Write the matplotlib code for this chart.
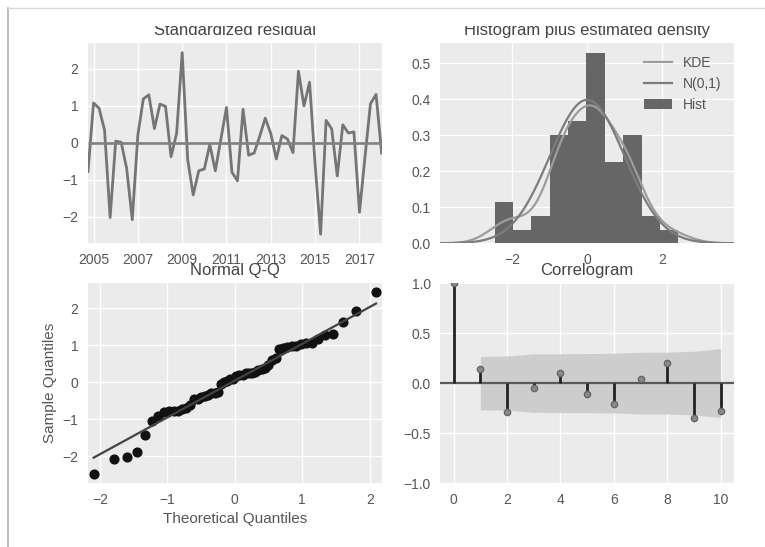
import statistics
import numpy as np
import pandas as pd
import matplotlib
matplotlib.use('Agg')
import matplotlib.pyplot as plt
from matplotlib.lines import Line2D
from matplotlib.patches import Rectangle

# standardized residuals (quarterly)
resid = [-0.78, 1.07, 0.93, 0.34, -2.02, 0.04, 0.01, -0.70, -2.08, 0.20,
         1.18, 1.29, 0.38, 1.04, 0.98, -0.38, 0.25, 2.43, -0.45, -1.41,
         -0.76, -0.71, -0.05, -0.76, 0.10, 0.95, -0.80, -1.03, 0.90, -0.34,
         -0.28, 0.17, 0.66, 0.24, -0.44, 0.19, 0.10, -0.27, 1.93, 0.99,
         1.63, -0.60, -2.47, 0.60, 0.37, -0.90, 0.48, 0.26, 0.29, -1.88,
         -0.40, 1.05, 1.30, -0.28]
start_date = '2004-10-01'
year_ticks = [2005, 2007, 2009, 2011, 2013, 2015, 2017]

# correlogram values
acf_lags = [0, 1, 2, 3, 4, 5, 6, 7, 8, 9, 10]
acf_vals = [1.0, 0.14, -0.29, -0.05, 0.10, -0.11, -0.21, 0.04, 0.20, -0.35, -0.28]

BG = '#ebebeb'
TXT = '#555555'

plt.rcParams['font.family'] = ['Liberation Sans', 'DejaVu Sans']
plt.rcParams['axes.facecolor'] = BG
plt.rcParams['axes.edgecolor'] = BG
plt.rcParams['axes.grid'] = True
plt.rcParams['grid.color'] = 'white'
plt.rcParams['grid.linewidth'] = 1.0
plt.rcParams['axes.axisbelow'] = True
plt.rcParams['xtick.color'] = TXT
plt.rcParams['ytick.color'] = TXT
plt.rcParams['axes.labelcolor'] = TXT
plt.rcParams['axes.titlecolor'] = '#444444'


def Style(ax):
    for s in ax.spines.values():
        s.set_visible(False)
    ax.tick_params(length=0, pad=7, labelsize=10)
    ax.title.set_fontsize(12)


def PlotResid(ax, dates, r):
    ax.plot(dates, r, color='#757575', lw=2.0)
    ax.hlines(0, dates[0], dates[-1], color='#808080', lw=1.9)
    ax.set_xlim(dates[0], dates[-1])
    ax.set_xticks(pd.to_datetime([str(y) + '-01-01' for y in year_ticks]))
    ax.set_xticklabels([str(y) for y in year_ticks])
    ax.set_yticks([-2, -1, 0, 1, 2])
    ax.set_title('Standardized residual')


def PlotHist(ax, r):
    r = np.asarray(r)
    ax.hist(r, density=True, color='#666666', label='Hist')
    xlim = (-1.96 * 2, 1.96 * 2)
    x = np.linspace(xlim[0], xlim[1], 200)
    bw = r.std(ddof=1) * len(r) ** (-1. / 5)
    kde = np.exp(-0.5 * ((x[:, None] - r[None, :]) / bw) ** 2).sum(1) / (len(r) * bw * np.sqrt(2 * np.pi))
    ax.plot(x, kde, color='#9c9c9c', lw=1.6, label='KDE')
    ax.plot(x, np.exp(-x ** 2 / 2) / np.sqrt(2 * np.pi), color='#7c7c7c', lw=1.6, label='N(0,1)')
    ax.set_xlim(xlim)
    ax.set_xticks([-2, 0, 2])
    ax.set_yticks([0.0, 0.1, 0.2, 0.3, 0.4, 0.5])
    h, l = ax.get_legend_handles_labels()
    ax.legend([h[1], h[2], h[0]], [l[1], l[2], l[0]], loc='upper right', frameon=False,
              fontsize=10, labelcolor=TXT)
    ax.set_title('Histogram plus estimated density')


def PlotQQ(ax, r):
    y = np.sort(np.asarray(r))
    n = len(y)
    nd = statistics.NormalDist()
    x = np.array([nd.inv_cdf(i / (n + 1.)) for i in range(1, n + 1)])
    ax.plot(x, y, 'o', color='#111111', ms=6.3)
    ax.plot(x, x * y.std() + y.mean(), color='#444444', lw=1.6)
    ax.set_xmargin(0.02)
    ax.set_xticks([-2, -1, 0, 1, 2])
    ax.set_yticks([-2, -1, 0, 1, 2])
    ax.set_xlabel('Theoretical Quantiles', fontsize=11)
    ax.set_ylabel('Sample Quantiles', fontsize=11)
    ax.set_title('Normal Q-Q')


def PlotAcf(ax, lags, vals, nobs):
    lags = np.asarray(lags)
    vals = np.asarray(vals)
    # Bartlett band
    var = np.ones(len(vals)) / nobs
    var[0] = 0
    var[2:] *= 1 + 2 * np.cumsum(vals[1:-1] ** 2)
    band = 1.96 * np.sqrt(var)
    ax.fill_between(lags[1:], -band[1:], band[1:], color='#cdcdcd', lw=0)
    ax.axhline(0, color='#5a5a5a', lw=1.6)
    ax.vlines(lags, 0, vals, color='#222222', lw=2)
    ax.plot(lags, vals, 'o', color='#8a8a8a', mec='#666666', ms=4.5)
    ax.set_xlim(-0.5, 10.5)
    ax.set_ylim(-1, 1)
    ax.set_xticks([0, 2, 4, 6, 8, 10])
    ax.set_yticks([-1.0, -0.5, 0.0, 0.5, 1.0])
    ax.set_title('Correlogram')


fig, axes = plt.subplots(2, 2, figsize=(7.65, 5.47), dpi=100)
fig.subplots_adjust(left=0.115, right=0.9595, top=0.9205, bottom=0.117, wspace=0.2, hspace=0.2)

dates = pd.date_range(start_date, periods=len(resid), freq='QS')
PlotResid(axes[0, 0], dates, resid)
PlotHist(axes[0, 1], resid)
PlotQQ(axes[1, 0], resid)
PlotAcf(axes[1, 1], acf_lags, acf_vals, len(resid))
for ax in axes.flat:
    Style(ax)

# screenshot frame: top strip is cut off, thin border left/top
W, H = 765., 547.
fig.add_artist(Rectangle((9 / W, 1 - 25.5 / H), 1, 16.5 / H, transform=fig.transFigure,
                         facecolor='white', edgecolor='none', zorder=10))
fig.add_artist(Line2D([8 / W, 8 / W], [0, 1 - 8 / H], transform=fig.transFigure,
                      color='#b0b0b0', lw=1.2, zorder=11))
fig.add_artist(Line2D([8 / W, 1], [1 - 8 / H, 1 - 8 / H], transform=fig.transFigure,
                      color='#d8d8d8', lw=1.0, zorder=11))

fig.savefig('out.png', dpi=100)
